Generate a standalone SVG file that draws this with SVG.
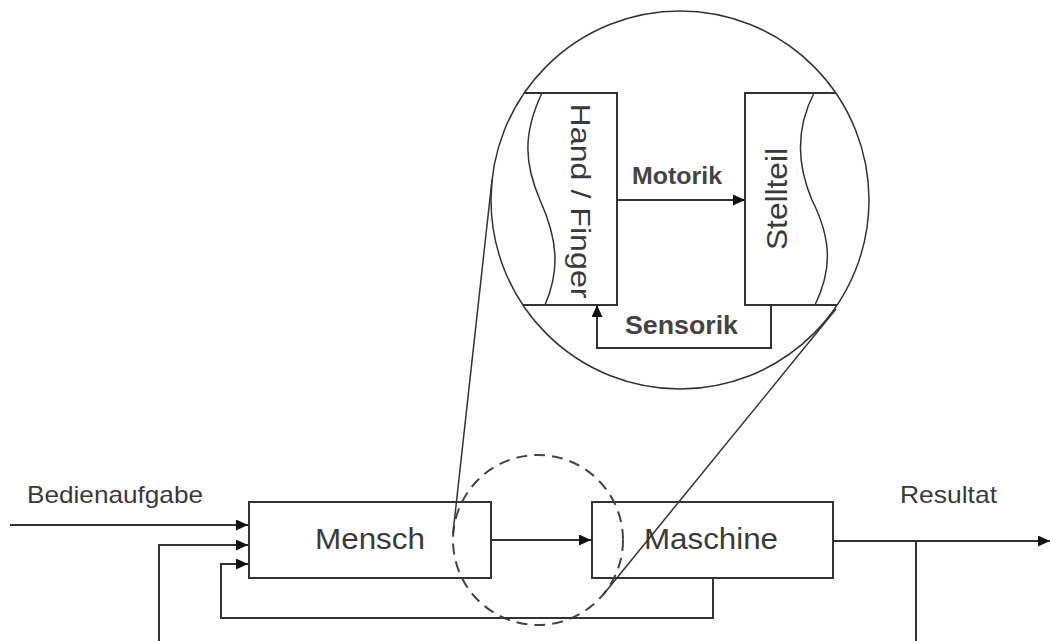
<svg xmlns="http://www.w3.org/2000/svg" width="1050" height="641" viewBox="0 0 1050 641">
<style>
.ln{fill:none;stroke:#333;stroke-width:2}
.thin{fill:none;stroke:#333;stroke-width:1.5}
.box{fill:none;stroke:#333;stroke-width:2}
.t{font-family:"Liberation Sans",Arial,sans-serif;fill:#3a3a3a}
.b{font-family:"Liberation Sans",Arial,sans-serif;font-weight:bold;fill:#444}
</style>
<defs>
<marker id="ah" markerUnits="userSpaceOnUse" markerWidth="12" markerHeight="11" refX="12" refY="5.5" orient="auto">
<path d="M0,0 L12,5.5 L0,11 z" fill="#111"/>
</marker>
</defs>
<rect width="1050" height="641" fill="#fff"/>

<g id="hand">
<path d="M524,93 H617 V305 H523" class="ln"/>
<path d="M542,93 C522,135 525,165 540,200 C558,240 560,270 545,305" class="thin"/>
<text class="t" font-size="28" text-anchor="middle" textLength="195" lengthAdjust="spacingAndGlyphs" transform="translate(571,201) rotate(90)">Hand / Finger</text>
</g>

<g id="stellteil">
<path d="M836,93 H745 V305 H837" class="ln"/>
<path d="M814,93 C795,130 797,165 812,200 C832,240 832,270 815,305" class="thin"/>
<text class="t" font-size="30" text-anchor="middle" textLength="102" lengthAdjust="spacingAndGlyphs" transform="translate(787,199) rotate(-90)">Stellteil</text>
</g>

<g id="mensch">
<rect x="249" y="502" width="242" height="76" class="box"/>
<text class="t" x="370" y="549" font-size="30" text-anchor="middle" textLength="110" lengthAdjust="spacingAndGlyphs">Mensch</text>
</g>

<g id="maschine">
<rect x="592" y="502" width="241" height="76" class="box"/>
<text class="t" x="711" y="549" font-size="30" text-anchor="middle" textLength="134" lengthAdjust="spacingAndGlyphs">Maschine</text>
</g>

<g id="lens">
<circle cx="680" cy="200" r="189" class="thin"/>
<circle cx="538" cy="540" r="85" fill="none" stroke="#444" stroke-width="2" stroke-dasharray="11 7"/>
<line x1="492" y1="180" x2="453" y2="533" class="thin"/>
<line x1="836" y1="309" x2="603" y2="595" class="thin"/>
</g>

<g id="connectors">
<line x1="617" y1="200" x2="745" y2="200" class="ln" marker-end="url(#ah)"/>
<polyline points="771,305 771,348 597,348 597,305" class="ln" marker-end="url(#ah)"/>
<line x1="10" y1="525" x2="248" y2="525" class="ln" marker-end="url(#ah)"/>
<polyline points="159,641 159,545 248,545" class="ln" marker-end="url(#ah)"/>
<polyline points="713,578 713,618 221,618 221,564 248,564" class="ln" marker-end="url(#ah)"/>
<line x1="491" y1="540" x2="591" y2="540" class="ln" marker-end="url(#ah)"/>
<line x1="833" y1="541" x2="1050" y2="541" class="ln" marker-end="url(#ah)"/>
<line x1="916" y1="541" x2="916" y2="641" class="ln"/>
</g>

<g id="labels">
<text class="b" x="632" y="184" font-size="24" textLength="90" lengthAdjust="spacingAndGlyphs">Motorik</text>
<text class="b" x="625" y="334" font-size="25" textLength="113" lengthAdjust="spacingAndGlyphs">Sensorik</text>
<text class="t" x="27" y="503" font-size="24" textLength="176" lengthAdjust="spacingAndGlyphs">Bedienaufgabe</text>
<text class="t" x="900" y="503" font-size="24" textLength="97" lengthAdjust="spacingAndGlyphs">Resultat</text>
</g>
</svg>
